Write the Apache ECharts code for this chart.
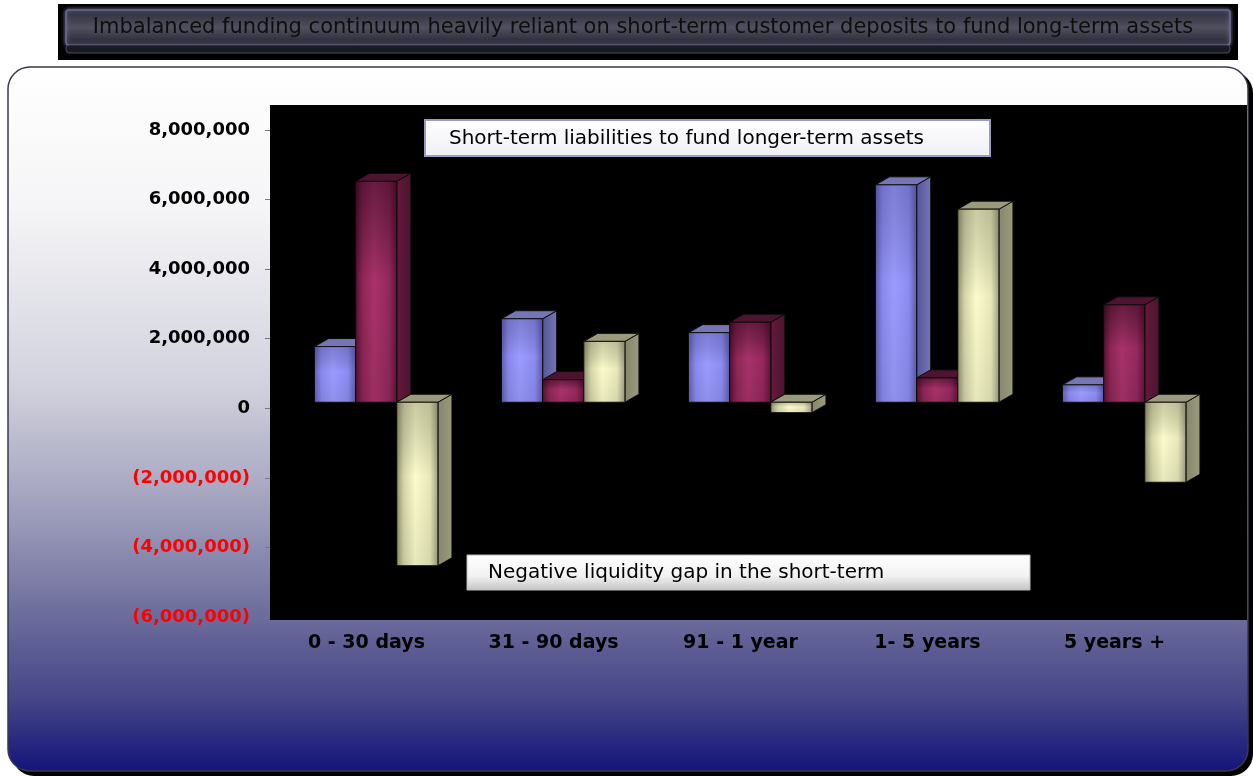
<!DOCTYPE html>
<html>
<head>
<meta charset="utf-8">
<script src="https://cdn.jsdelivr.net/npm/echarts@6/dist/echarts.min.js"></script>
<style>
html,body{margin:0;padding:0;background:#ffffff;}
#chart{width:1253px;height:776px;}
</style>
</head>
<body>
<div id="chart"></div>
<script>
// ---- Data ----
const categories = ['0 - 30 days', '31 - 90 days', '91 - 1 year', '1- 5 years', '5 years +'];
const seriesA = [1600000, 2400000, 2000000, 6250000, 500000];   // blue
const seriesB = [6350000, 650000, 2300000, 700000, 2800000];    // red
const seriesC = [-4700000, 1750000, -300000, 5550000, -2300000]; // yellow
const yTicks = { min: -6000000, max: 8000000, interval: 2000000 };
const titleText = 'Imbalanced funding continuum heavily reliant on short-term customer deposits to fund long-term assets';
const noteTop = 'Short-term liabilities to fund longer-term assets';
const noteBottom = 'Negative liquidity gap in the short-term';

// ---- Styles ----
const palettes = [
  { front: ['#5c5cae', '#8a8aee', '#9b9bff', '#8c8cf2', '#5a5aa6'], side: '#54549c', top: '#7676b4', vtop: 'rgba(40,40,90,0.25)' },
  { front: ['#54102e', '#8e2656', '#a8336a', '#95285e', '#5e1434'], side: '#661a3c', top: '#4c142e', vtop: 'rgba(30,0,15,0.45)' },
  { front: ['#8e8e70', '#d6d6aa', '#fbfbcc', '#e8e8ba', '#9c9c80'], side: '#86866c', top: '#9a9a7c', vtop: 'rgba(60,60,40,0.25)' }
];

function fmt(v) {
  return Math.abs(v).toString().replace(/\B(?=(\d{3})+(?!\d))/g, ',');
}

function makeRender(idx) {
  const pal = palettes[idx];
  return function (params, api) {
    const ci = api.value(0), v = api.value(1);
    const p0 = api.coord([ci, 0]);
    const p1 = api.coord([ci, v]);
    const band = api.size([1, 0])[0];
    const bw = band * 0.22;
    const dx = band * 0.075;
    const dy = -band * 0.043;
    const shift = dy * 0.75;
    const x0 = p0[0] - band * 0.278 + idx * bw;
    const x1 = x0 + bw;
    const ya = p0[1] + shift, yb = p1[1] + shift;
    const yTop = Math.min(ya, yb), yBot = Math.max(ya, yb);
    const h = Math.max(yBot - yTop, 1);
    const stroke = '#0c0c0c';
    return {
      type: 'group',
      children: [
        { type: 'polygon', shape: { points: [[x1, yTop], [x1 + dx, yTop + dy], [x1 + dx, yBot + dy], [x1, yBot]] },
          style: { fill: { type: 'linear', x: 0, y: 0, x2: 1, y2: 0, colorStops: [{ offset: 0, color: pal.side }, { offset: 1, color: pal.top }] }, stroke: stroke, lineWidth: 1 } },
        { type: 'polygon', shape: { points: [[x0, yTop], [x0 + dx, yTop + dy], [x1 + dx, yTop + dy], [x1, yTop]] },
          style: { fill: pal.top, stroke: stroke, lineWidth: 1 } },
        { type: 'rect', shape: { x: x0, y: yTop, width: bw, height: h },
          style: { fill: { type: 'linear', x: 0, y: 0, x2: 1, y2: 0, colorStops: [
            { offset: 0, color: pal.front[0] }, { offset: 0.18, color: pal.front[1] },
            { offset: 0.45, color: pal.front[2] }, { offset: 0.8, color: pal.front[3] }, { offset: 1, color: pal.front[4] }] },
            stroke: stroke, lineWidth: 1 } },
        { type: 'rect', shape: { x: x0, y: yTop, width: bw, height: h },
          style: { fill: { type: 'linear', x: 0, y: 0, x2: 0, y2: 1, colorStops: [
            { offset: 0, color: pal.vtop }, { offset: 0.45, color: 'rgba(0,0,0,0)' }, { offset: 1, color: 'rgba(0,0,0,0.08)' }] } } }
      ]
    };
  };
}

const allSeries = [seriesA, seriesB, seriesC].map((arr, i) => ({
  type: 'custom',
  name: 'S' + (i + 1),
  z: 5,
  renderItem: makeRender(i),
  encode: { x: 0, y: 1 },
  data: arr.map((v, k) => [k, v]),
  clip: false
}));

const chart = echarts.init(document.getElementById('chart'), null, { renderer: 'canvas' });
chart.setOption({
  backgroundColor: '#ffffff',
  animation: false,
  grid: { left: 273, right: 45, top: 130, bottom: 159, containLabel: false },
  xAxis: {
    type: 'category',
    data: categories,
    z: 10,
    axisLine: { show: false },
    axisTick: { show: false },
    axisLabel: { margin: 17, color: '#000', fontFamily: 'DejaVu Sans', fontWeight: 'bold', fontSize: 19 }
  },
  yAxis: {
    type: 'value',
    min: yTicks.min, max: yTicks.max, interval: yTicks.interval,
    offset: 3,
    z: 10,
    splitLine: { show: false },
    axisLine: { show: false },
    axisTick: { show: true, length: 5, lineStyle: { color: '#777' } },
    axisLabel: {
      margin: 20,
      formatter: v => v < 0 ? '{neg|(' + fmt(v) + ')}' : '{pos|' + fmt(v) + '}',
      rich: {
        neg: { color: '#ff0000', fontFamily: 'DejaVu Sans', fontWeight: 'bold', fontSize: 18 },
        pos: { color: '#000000', fontFamily: 'DejaVu Sans', fontWeight: 'bold', fontSize: 18 }
      }
    }
  },
  graphic: [
    // panel shadow + panel
    { type: 'rect', z: 0, silent: true, shape: { x: 12, y: 71, width: 1241, height: 705, r: 22 }, style: { fill: '#000' } },
    { type: 'rect', z: 0, silent: true, shape: { x: 8, y: 67, width: 1240, height: 704, r: 22 },
      style: { fill: { type: 'linear', x: 0, y: 0, x2: 0, y2: 1, colorStops: [
        { offset: 0, color: '#ffffff' }, { offset: 0.2, color: '#f5f5f7' }, { offset: 0.45, color: '#d2d2de' },
        { offset: 0.62, color: '#a2a2be' }, { offset: 0.78, color: '#6c6c9c' }, { offset: 0.9, color: '#444488' }, { offset: 1, color: '#14147a' }] },
        stroke: '#3a3a4a', lineWidth: 1.5 } },
    // plot background
    { type: 'rect', z: 1, silent: true, shape: { x: 270, y: 105, width: 977, height: 515 }, style: { fill: '#000000' } },
    // title bar
    { type: 'rect', z: 1, silent: true, shape: { x: 58, y: 4, width: 1180, height: 56 }, style: { fill: '#000000' } },
    { type: 'rect', z: 1, silent: true, shape: { x: 66, y: 10, width: 1164, height: 35, r: 3 },
      style: { fill: { type: 'linear', x: 0, y: 0, x2: 0, y2: 1, colorStops: [
        { offset: 0, color: '#2a2a38' }, { offset: 0.5, color: '#505060' }, { offset: 1, color: '#22222e' }] },
        stroke: '#6a6a90', lineWidth: 1.5, shadowBlur: 4, shadowColor: 'rgba(140,140,180,0.8)' } },
    { type: 'rect', z: 1, silent: true, shape: { x: 66, y: 45, width: 1164, height: 8, r: 3 },
      style: { fill: '#1a1a24', stroke: '#4a4a66', lineWidth: 1 } },
    { type: 'text', z: 2, silent: true, x: 643, y: 28,
      style: { text: titleText, fill: '#0e0e0e', font: '21px "DejaVu Sans"', align: 'center', verticalAlign: 'middle',
        shadowBlur: 7, shadowColor: 'rgba(210,210,225,0.95)' } },
    // note boxes
    { type: 'rect', z: 20, silent: true, shape: { x: 425, y: 120, width: 565, height: 36 },
      style: { fill: { type: 'linear', x: 0, y: 0, x2: 0, y2: 1, colorStops: [
        { offset: 0, color: '#ffffff' }, { offset: 1, color: '#eeeef6' }] }, stroke: '#9a9ac4', lineWidth: 2 } },
    { type: 'text', z: 21, silent: true, x: 449, y: 139,
      style: { text: noteTop, fill: '#000', font: '20px "DejaVu Sans"', align: 'left', verticalAlign: 'middle' } },
    { type: 'rect', z: 20, silent: true, shape: { x: 467, y: 555, width: 563, height: 35 },
      style: { fill: { type: 'linear', x: 0, y: 0, x2: 0, y2: 1, colorStops: [
        { offset: 0, color: '#ffffff' }, { offset: 0.6, color: '#f2f2f2' }, { offset: 1, color: '#c4c4c4' }] }, stroke: '#bbbbbb', lineWidth: 1 } },
    { type: 'text', z: 21, silent: true, x: 488, y: 573,
      style: { text: noteBottom, fill: '#000', font: '20px "DejaVu Sans"', align: 'left', verticalAlign: 'middle' } }
  ],
  series: allSeries
});
</script>
</body>
</html>
